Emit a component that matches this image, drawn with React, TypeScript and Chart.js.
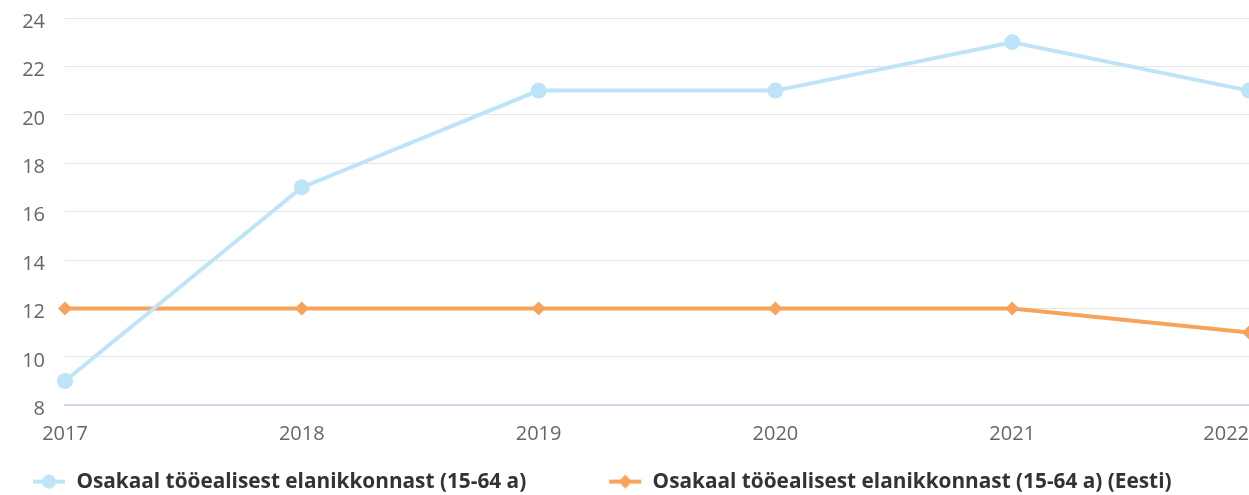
import React, { useEffect, useRef } from "react";
import { Chart, registerables } from "chart.js";

Chart.register(...registerables);

// ---- data ----
const years: string[] = ["2017", "2018", "2019", "2020", "2021", "2022"];
const localShare: number[] = [9, 17, 21, 21, 23, 21];
const estoniaShare: number[] = [12, 12, 12, 12, 12, 11];
const seriesNames: string[] = [
  "Osakaal tööealisest elanikkonnast (15-64 a)",
  "Osakaal tööealisest elanikkonnast (15-64 a) (Eesti)",
];
const yMin = 8;
const yMax = 24;
const yStep = 2;

// ---- style ----
const BLUE = "#bee5f7";
const ORANGE = "#f7a35c";
const FONT = "'Open Sans', 'Noto Sans', sans-serif";

const CANVAS_LEFT = -50;
const CANVAS_TOP = -14;
const CANVAS_W = 1316;
const CANVAS_H = 516;
const PLOT_LEFT = 65;
const LEGEND_PAD = 8;
const SYMBOL_W = 108;
const SYMBOL_H = 20;

function makeSymbol(color: string, kind: "circle" | "diamond"): HTMLCanvasElement {
  const c = document.createElement("canvas");
  c.width = SYMBOL_W;
  c.height = SYMBOL_H;
  const ctx = c.getContext("2d")!;
  const x1 = SYMBOL_W - 33;
  const x2 = SYMBOL_W - 1;
  const cy = SYMBOL_H / 2;
  ctx.strokeStyle = color;
  ctx.lineWidth = 4;
  ctx.beginPath();
  ctx.moveTo(x1, cy);
  ctx.lineTo(x2, cy);
  ctx.stroke();
  ctx.fillStyle = color;
  const cx = (x1 + x2) / 2;
  ctx.beginPath();
  if (kind === "circle") {
    ctx.arc(cx, cy, 7, 0, Math.PI * 2);
  } else {
    const r = 7;
    ctx.moveTo(cx, cy - r);
    ctx.lineTo(cx + r, cy);
    ctx.lineTo(cx, cy + r);
    ctx.lineTo(cx - r, cy);
    ctx.closePath();
  }
  ctx.fill();
  return c;
}

const edgeLabelPlugin = {
  id: "edgeLabels",
  beforeDraw(chart: any) {
    try {
      const sc = chart.scales.x;
      const items = sc.getLabelItems();
      if (items && items.length && items[0].options) {
        items[0].options.textAlign = "center";
      }
    } catch (e) {
      /* ignore */
    }
  },
};

export default function App() {
  const ref = useRef<HTMLCanvasElement | null>(null);

  useEffect(() => {
    if (!ref.current) return;
    const symbols = [makeSymbol(BLUE, "circle"), makeSymbol(ORANGE, "diamond")];
    const chart = new Chart(ref.current, {
      type: "line",
      data: {
        labels: years,
        datasets: [
          {
            label: seriesNames[0],
            data: localShare,
            borderColor: BLUE,
            backgroundColor: BLUE,
            borderWidth: 4,
            pointRadius: 8,
            pointBackgroundColor: BLUE,
            pointBorderWidth: 0,
            pointStyle: "circle",
            tension: 0,
            clip: false as any,
          },
          {
            label: seriesNames[1],
            data: estoniaShare,
            borderColor: ORANGE,
            backgroundColor: ORANGE,
            borderWidth: 4,
            pointRadius: 7,
            pointBackgroundColor: ORANGE,
            pointBorderWidth: 0,
            pointStyle: "rectRot",
            tension: 0,
            clip: false as any,
          },
        ],
      },
      options: {
        animation: false,
        responsive: false,
        events: [],
        layout: { padding: 0 },
        plugins: {
          tooltip: { enabled: false },
          title: { display: false },
          legend: {
            display: true,
            position: "bottom",
            align: "start",
            labels: {
              usePointStyle: true,
              pointStyleWidth: SYMBOL_W,
              padding: LEGEND_PAD,
              color: "#333333",
              font: { family: FONT, size: 20.8, weight: "bold" },
              generateLabels: (ch: any) =>
                ch.data.datasets.map((ds: any, i: number) => ({
                  text: ds.label,
                  fillStyle: ds.borderColor,
                  strokeStyle: ds.borderColor,
                  lineWidth: 0,
                  pointStyle: symbols[i],
                  hidden: false,
                  datasetIndex: i,
                  fontColor: "#333333",
                })),
            },
          },
        },
        scales: {
          x: {
            type: "category",
            offset: false,
            grid: { display: false, drawTicks: false },
            border: { display: true, color: "#ccd6eb", width: 2 },
            ticks: {
              color: "#666666",
              font: { family: FONT, size: 20 },
              padding: 17,
              align: "inner",
              maxRotation: 0,
              autoSkip: false,
            },
          },
          y: {
            min: yMin,
            max: yMax,
            grid: { color: "#e6e6e6", lineWidth: 1, drawTicks: false },
            border: { display: false },
            ticks: {
              stepSize: yStep,
              color: "#666666",
              font: { family: FONT, size: 20 },
              padding: 20,
              labelOffset: 4,
            },
            afterFit: (scale: any) => {
              scale.width = PLOT_LEFT - CANVAS_LEFT;
            },
          },
        },
      },
      plugins: [edgeLabelPlugin],
    });
    return () => chart.destroy();
  }, []);

  return (
    <div style={{ position: "fixed", left: 0, top: 0, width: "100vw", height: "100vh", overflow: "hidden", background: "#ffffff" }}>
      <div style={{ position: "absolute", left: CANVAS_LEFT, top: CANVAS_TOP, width: CANVAS_W, height: CANVAS_H }}>
        <canvas ref={ref} width={CANVAS_W} height={CANVAS_H} style={{ display: "block", width: CANVAS_W, height: CANVAS_H }} />
      </div>
    </div>
  );
}
